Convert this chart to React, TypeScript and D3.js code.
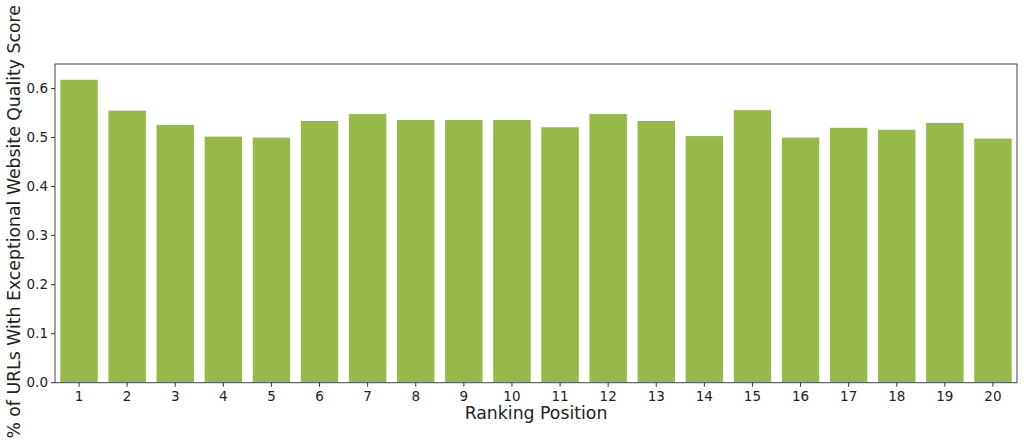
import React from "react";
import * as d3 from "d3";

const categories: string[] = ["1","2","3","4","5","6","7","8","9","10","11","12","13","14","15","16","17","18","19","20"];
const values: number[] = [0.619,0.556,0.527,0.503,0.501,0.535,0.549,0.537,0.537,0.537,0.522,0.549,0.535,0.504,0.557,0.501,0.521,0.517,0.531,0.499];
const yTicks: number[] = [0, 0.1, 0.2, 0.3, 0.4, 0.5, 0.6];

const W = 1024, H = 447;
const m = { left: 55, right: 1017, top: 64, bottom: 382.7 };
const font = "DejaVu Sans, sans-serif";

export default function App() {
  const x = d3.scaleBand<string>().domain(categories).range([m.left, m.right]).paddingInner(0.2).paddingOuter(0.1);
  const y = d3.scaleLinear().domain([0, 0.65]).range([m.bottom, m.top]);
  return (
    <svg width={W} height={H} style={{ position: "absolute", left: 0, top: 0 }} fontFamily={font}>
      <rect x={0} y={0} width={W} height={H} fill="#fff" />
      {categories.map((c, i) => (
        <rect key={c} x={x(c)} y={y(values[i])} width={x.bandwidth()} height={y(0) - y(values[i])}
          fill="#97b94c" stroke="#fff" strokeWidth={1} />
      ))}
      <rect x={m.left} y={m.top} width={m.right - m.left} height={m.bottom - m.top} fill="none" stroke="#444" strokeWidth={1} />
      {yTicks.map(t => (
        <g key={t}>
          <line x1={m.left - 4} x2={m.left} y1={y(t)} y2={y(t)} stroke="#333" />
          <text x={m.left - 7} y={y(t)} dy="0.35em" textAnchor="end" fontSize={13.5} fill="#222">{t.toFixed(1)}</text>
        </g>
      ))}
      {categories.map(c => {
        const cx = (x(c) as number) + x.bandwidth() / 2;
        return (
          <g key={c}>
            <line x1={cx} x2={cx} y1={m.bottom} y2={m.bottom + 4} stroke="#333" />
            <text x={cx} y={m.bottom + 18.5} textAnchor="middle" fontSize={13.5} fill="#222">{c}</text>
          </g>
        );
      })}
      <text x={(m.left + m.right) / 2} y={419} textAnchor="middle" fontSize={17.3} fill="#222">Ranking Position</text>
      <text transform={`translate(20,${(m.top + m.bottom) / 2 - 1.5}) rotate(-90)`} textAnchor="middle" fontSize={17.3} fill="#222">% of URLs With Exceptional Website Quality Score</text>
    </svg>
  );
}
